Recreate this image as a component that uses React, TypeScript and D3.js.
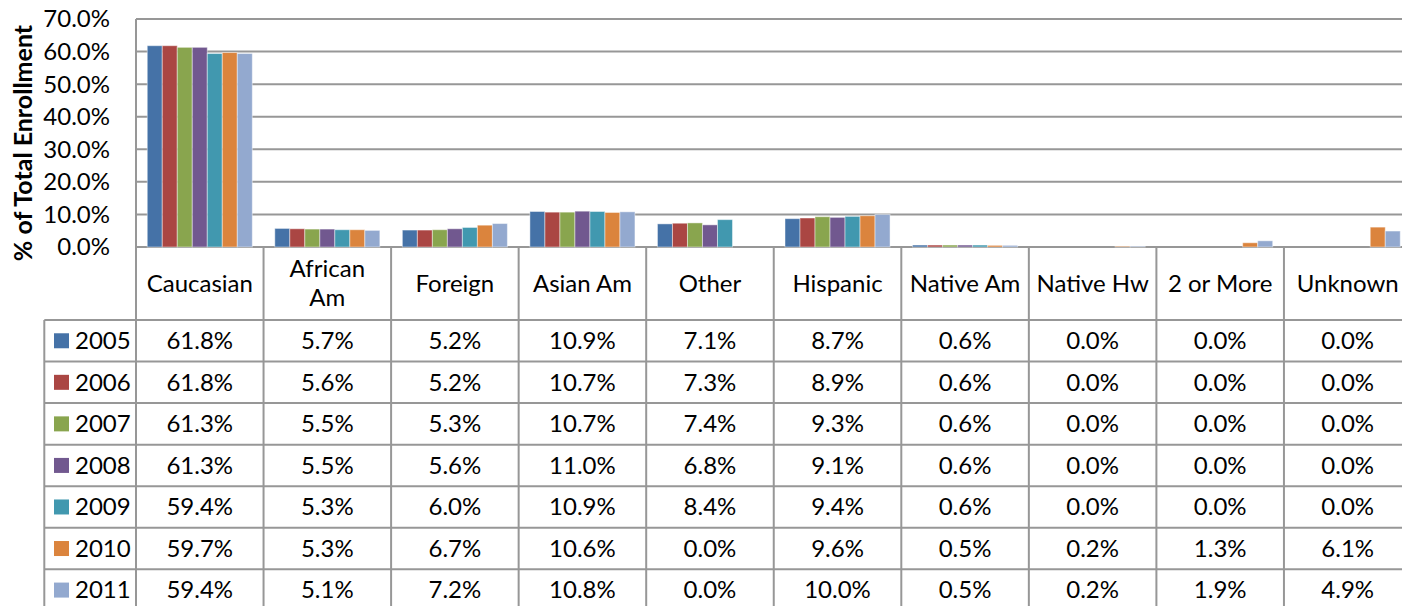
import React from "react";
import * as d3 from "d3";

const categories = ["Caucasian", "African Am", "Foreign", "Asian Am", "Other", "Hispanic", "Native Am", "Native Hw", "2 or More", "Unknown"];
const categoryLines = [["Caucasian"], ["African", "Am"], ["Foreign"], ["Asian Am"], ["Other"], ["Hispanic"], ["Native Am"], ["Native Hw"], ["2 or More"], ["Unknown"]];
const years = ["2005", "2006", "2007", "2008", "2009", "2010", "2011"];
const v2005 = [61.8, 5.7, 5.2, 10.9, 7.1, 8.7, 0.6, 0.0, 0.0, 0.0];
const v2006 = [61.8, 5.6, 5.2, 10.7, 7.3, 8.9, 0.6, 0.0, 0.0, 0.0];
const v2007 = [61.3, 5.5, 5.3, 10.7, 7.4, 9.3, 0.6, 0.0, 0.0, 0.0];
const v2008 = [61.3, 5.5, 5.6, 11.0, 6.8, 9.1, 0.6, 0.0, 0.0, 0.0];
const v2009 = [59.4, 5.3, 6.0, 10.9, 8.4, 9.4, 0.6, 0.0, 0.0, 0.0];
const v2010 = [59.7, 5.3, 6.7, 10.6, 0.0, 9.6, 0.5, 0.2, 1.3, 6.1];
const v2011 = [59.4, 5.1, 7.2, 10.8, 0.0, 10.0, 0.5, 0.2, 1.9, 4.9];
const seriesValues = [v2005, v2006, v2007, v2008, v2009, v2010, v2011];
const colors = ["#4572A7", "#AA4643", "#89A54E", "#71588F", "#4198AF", "#DB843D", "#93A9CF"];
const yTicks = [0, 10, 20, 30, 40, 50, 60, 70];

const W = 1402;
const H = 606;
const FONT = "Lato, 'Open Sans', sans-serif";
const FS = 24;

export default function App() {
  const plotLeft = 136;
  const plotRight = 1411.5;
  const plotTop = 19;
  const plotBottom = 247;
  const headerBottom = 320;
  const rowH = 41.55;
  const legendLeft = 44.3;
  const gridColor = "#979797";

  const x = d3.scaleBand<string>().domain(categories).range([plotLeft, plotRight]).paddingInner(0).paddingOuter(0);
  const xInner = d3.scaleBand<string>().domain(years).range([0, x.bandwidth()]).paddingInner(0).paddingOuter(0.75);
  const y = d3.scaleLinear().domain([0, 70]).range([plotBottom, plotTop]);
  const fmt = (v: number) => d3.format(".1f")(v) + "%";

  const rowTop = (i: number) => headerBottom + i * rowH;

  return (
    <svg width={W} height={H} style={{ position: "fixed", left: 0, top: 0, background: "#fff" }} fontFamily={FONT}>
      <rect x={0} y={0} width={W} height={H} fill="#fff" />
      {yTicks.map((t) => (
        <line key={"g" + t} x1={plotLeft} x2={plotRight} y1={y(t)} y2={y(t)} stroke={gridColor} strokeWidth={2} />
      ))}
      {yTicks.map((t) => (
        <text key={"t" + t} x={110} y={y(t)} dy="0.35em" textAnchor="end" fontSize={FS} fill="#000">
          {fmt(t)}
        </text>
      ))}
      <text
        transform={`translate(31.5,143) rotate(-90)`}
        textAnchor="middle"
        fontSize={25}
        fontWeight="bold"
        fill="#000"
      >
        % of Total Enrollment
      </text>
      {categories.map((c, ci) => (
        <g key={c} transform={`translate(${x(c)},0)`}>
          {years.map((yr, si) => {
            const v = seriesValues[si][ci];
            if (v <= 0) return null;
            return (
              <rect
                key={yr}
                x={xInner(yr)}
                y={y(v)}
                width={xInner.bandwidth()}
                height={y(0) - y(v)}
                fill={colors[si]}
                stroke="#ffffff"
                strokeOpacity={0.45}
                strokeWidth={1}
              />
            );
          })}
        </g>
      ))}
      <line x1={plotLeft} x2={plotLeft} y1={plotTop} y2={H} stroke={gridColor} strokeWidth={2} />
      {categories.map((c) => (
        <line key={"v" + c} x1={(x(c) as number) + x.bandwidth()} x2={(x(c) as number) + x.bandwidth()} y1={plotBottom} y2={H} stroke={gridColor} strokeWidth={2} />
      ))}
      <line x1={legendLeft} x2={legendLeft} y1={headerBottom} y2={H} stroke={gridColor} strokeWidth={2} />
      {years.map((yr, i) => (
        <line key={"h" + yr} x1={legendLeft} x2={plotRight} y1={rowTop(i)} y2={rowTop(i)} stroke={gridColor} strokeWidth={2} />
      ))}
      <line x1={legendLeft} x2={plotRight} y1={rowTop(years.length)} y2={rowTop(years.length)} stroke={gridColor} strokeWidth={2} />
      {categories.map((c, ci) => {
        const lines = categoryLines[ci];
        const cx = (x(c) as number) + x.bandwidth() / 2;
        const cy = (plotBottom + headerBottom) / 2;
        const lh = 29;
        return (
          <text key={"hl" + c} x={cx} textAnchor="middle" fontSize={FS} fill="#000">
            {lines.map((ln, li) => (
              <tspan key={li} x={cx} y={cy + (li - (lines.length - 1) / 2) * lh} dy="0.35em">
                {ln}
              </tspan>
            ))}
          </text>
        );
      })}
      {years.map((yr, si) => {
        const cy = rowTop(si) + rowH / 2;
        return (
          <g key={"r" + yr}>
            <rect x={54} y={cy - 7.5} width={15} height={15} fill={colors[si]} />
            <text x={75} y={cy} dy="0.35em" fontSize={FS} fill="#000">
              {yr}
            </text>
            {categories.map((c, ci) => (
              <text key={c} x={(x(c) as number) + x.bandwidth() / 2} y={cy} dy="0.35em" textAnchor="middle" fontSize={FS} fill="#000">
                {fmt(seriesValues[si][ci])}
              </text>
            ))}
          </g>
        );
      })}
    </svg>
  );
}
